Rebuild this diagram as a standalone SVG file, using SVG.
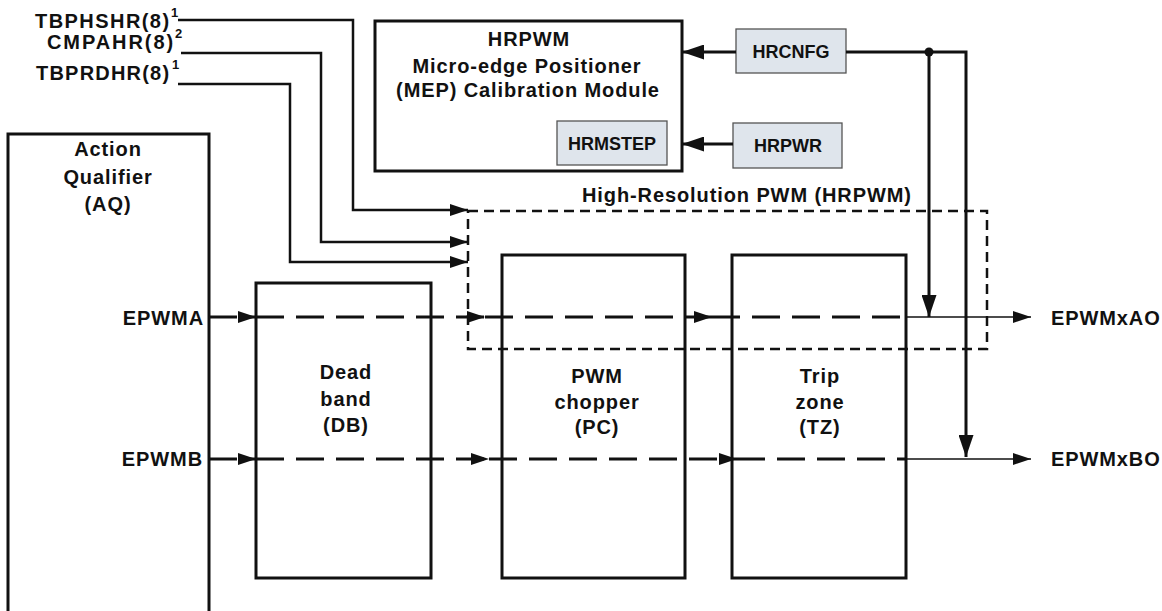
<svg xmlns="http://www.w3.org/2000/svg" width="1162" height="611" viewBox="0 0 1162 611">
<defs>
<style>
text{font-family:"Liberation Sans",Arial,sans-serif;font-weight:bold;fill:#111;}
.lbl{font-size:20px;letter-spacing:0.9px;}
.sup{font-size:13px;}
.reg{font-size:18px;text-anchor:middle;}
.mid{text-anchor:middle;}
.end{text-anchor:end;}
.box{fill:#fff;stroke:#111;stroke-width:3;}
.hr{fill:#dfe5ec;stroke:#555;stroke-width:1.3;}
.dbox{fill:none;stroke:#111;stroke-width:2.5;stroke-dasharray:10 6;}
.thick{fill:none;stroke:#111;stroke-width:3;}
.med{fill:none;stroke:#111;stroke-width:2.5;}
.dash{fill:none;stroke:#111;stroke-width:3;stroke-dasharray:28 12;}
.thin{fill:none;stroke:#111;stroke-width:1.3;}
</style>
<marker id="aL" markerUnits="userSpaceOnUse" markerWidth="22" markerHeight="15" refX="22" refY="7.5" orient="auto">
<path d="M0,0 L22,7.5 L0,15 Z" fill="#111"/>
</marker>
<marker id="aS" markerUnits="userSpaceOnUse" markerWidth="18" markerHeight="12" refX="18" refY="6" orient="auto">
<path d="M0,0 L18,6 L0,12 Z" fill="#111"/>
</marker>
</defs>
<rect width="1162" height="611" fill="#fff"/>

<g id="aq">
<rect class="box" x="8" y="134" width="201" height="500"/>
<text class="lbl mid" x="108" y="156">Action</text>
<text class="lbl mid" x="108" y="184">Qualifier</text>
<text class="lbl mid" x="108" y="211">(AQ)</text>
</g>

<g id="db">
<rect class="box" x="256" y="283" width="175" height="295"/>
<text class="lbl mid" x="346" y="379">Dead</text>
<text class="lbl mid" x="346" y="406">band</text>
<text class="lbl mid" x="346" y="432">(DB)</text>
</g>

<g id="pc">
<rect class="box" x="502" y="255" width="183" height="323"/>
<text class="lbl mid" x="597" y="383">PWM</text>
<text class="lbl mid" x="597" y="409">chopper</text>
<text class="lbl mid" x="597" y="434">(PC)</text>
</g>

<g id="tz">
<rect class="box" x="732" y="255" width="174" height="323"/>
<text class="lbl mid" x="820" y="383">Trip</text>
<text class="lbl mid" x="820" y="409">zone</text>
<text class="lbl mid" x="820" y="434">(TZ)</text>
</g>

<g id="mep">
<rect class="box" x="375" y="21" width="307" height="150"/>
<text class="lbl mid" x="529" y="46">HRPWM</text>
<text class="lbl mid" x="527" y="73">Micro-edge Positioner</text>
<text class="lbl mid" x="528" y="97">(MEP) Calibration Module</text>
</g>

<g id="hrmstep">
<rect class="hr" x="557" y="121" width="110" height="44"/>
<text class="reg" x="612" y="150">HRMSTEP</text>
</g>

<g id="hrcnfg">
<rect class="hr" x="736" y="29" width="110" height="44"/>
<text class="reg" x="791" y="58">HRCNFG</text>
</g>

<g id="hrpwr">
<rect class="hr" x="733" y="123" width="109" height="45"/>
<text class="reg" x="788" y="152">HRPWR</text>
</g>

<g id="hrpwm">
<rect class="dbox" x="468" y="211" width="519" height="138"/>
<text class="lbl" x="582" y="202">High-Resolution PWM (HRPWM)</text>
</g>

<g id="inputs">
<text class="lbl" x="35" y="28" textLength="135">TBPHSHR(8)</text>
<text class="sup" x="171" y="17">1</text>
<text class="lbl" x="47" y="49" textLength="127">CMPAHR(8)</text>
<text class="sup" x="175" y="38">2</text>
<text class="lbl" x="36" y="80" textLength="134">TBPRDHR(8)</text>
<text class="sup" x="172" y="69">1</text>
</g>

<g id="signals">
<text class="lbl end" x="204" y="325">EPWMA</text>
<text class="lbl end" x="203" y="466">EPWMB</text>
<text class="lbl" x="1051" y="325">EPWMxAO</text>
<text class="lbl" x="1051" y="466">EPWMxBO</text>
</g>

<g id="connectors">
<polyline class="med" points="178,20 353,20 353,210 468,210" marker-end="url(#aS)"/>
<polyline class="med" points="181,53 321,53 321,242 468,242" marker-end="url(#aS)"/>
<polyline class="med" points="178,84 290,84 290,262 468,262" marker-end="url(#aS)"/>

<line class="thick" x1="736" y1="52" x2="682" y2="52" marker-end="url(#aL)"/>
<line class="thick" x1="733" y1="144" x2="682" y2="144" marker-end="url(#aL)"/>
<polyline class="thick" points="846,52 966,52 966,457" marker-end="url(#aL)"/>
<line class="thick" x1="929" y1="52" x2="929" y2="317" marker-end="url(#aL)"/>
<circle cx="929" cy="52" r="4.5" fill="#111"/>

<line class="dash" x1="209" y1="317" x2="256" y2="317" marker-end="url(#aS)"/>
<line class="dash" x1="256" y1="317" x2="485" y2="317" marker-end="url(#aS)"/>
<line class="dash" x1="485" y1="317" x2="712" y2="317" marker-end="url(#aS)"/>
<line class="dash" x1="712" y1="317" x2="906" y2="317"/>
<line class="thin" x1="906" y1="317" x2="1031" y2="317" marker-end="url(#aS)"/>

<line class="dash" x1="209" y1="459" x2="256" y2="459" marker-end="url(#aS)"/>
<line class="dash" x1="256" y1="459" x2="489" y2="459" marker-end="url(#aS)"/>
<line class="dash" x1="489" y1="459" x2="737" y2="459" marker-end="url(#aS)"/>
<line class="dash" x1="737" y1="459" x2="906" y2="459"/>
<line class="thin" x1="906" y1="459" x2="1031" y2="459" marker-end="url(#aS)"/>
</g>
</svg>
